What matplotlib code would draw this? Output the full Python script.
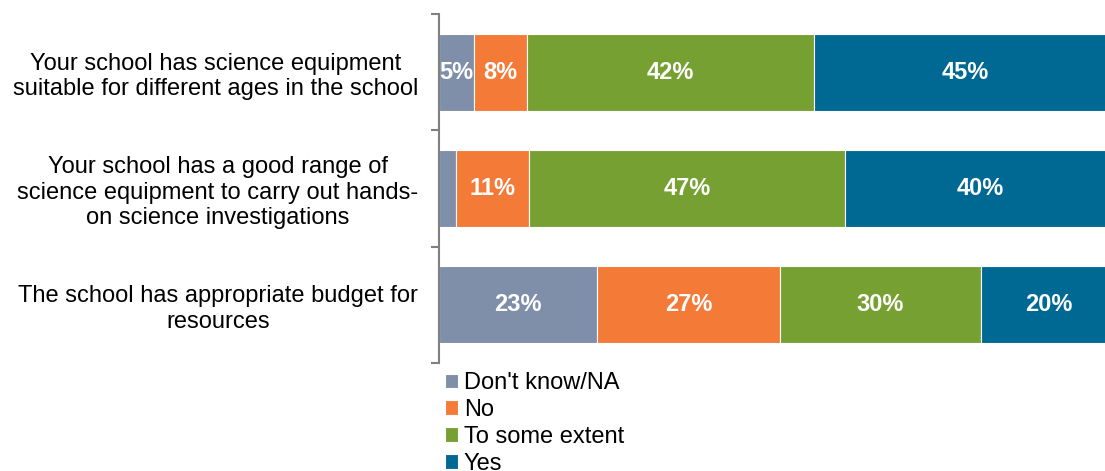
import matplotlib
matplotlib.use("Agg")
import matplotlib.pyplot as plt
import numpy as np

plt.rcParams['font.family'] = ['Liberation Sans', 'DejaVu Sans']

categories = [
    "Your school has science equipment\nsuitable for different ages in the school",
    "Your school has a good range of\nscience equipment to carry out hands-\non science investigations",
    "The school has appropriate budget for\nresources",
]
series_names = ["Don't know/NA", "No", "To some extent", "Yes"]
dont_know = [5.2, 2.5, 23.4]
no = [7.8, 10.8, 26.9]
some_extent = [42.4, 46.7, 29.8]
yes = [44.6, 40.0, 19.9]
colors = ["#7F8FA9", "#F47A37", "#77A033", "#006993"]

series = [dont_know, no, some_extent, yes]

fig = plt.figure(figsize=(11.05, 4.71), dpi=100)
ax = fig.add_axes([439/1105, 1 - 363/471, (1116-439)/1105, (363-14)/471])

y = np.arange(len(categories))
left = np.zeros(len(categories))
for name, vals, c in zip(series_names, series, colors):
    vals = np.array(vals)
    ax.barh(y, vals, left=left, height=0.66, color=c, edgecolor='white',
            linewidth=0.8, label=name)
    for yi, (l, v) in enumerate(zip(left, vals)):
        if v >= 3:
            ax.text(l + v/2, yi, f"{v:.0f}%", ha='center', va='center',
                    color='white', fontsize=17, fontweight='bold')
    left += vals

ax.set_xlim(0, 100)
ax.set_ylim(len(categories) - 0.5, -0.5)
ax.set_yticks(np.arange(-0.5, len(categories) + 0.5, 1))
ax.set_yticklabels([])
ax.set_yticks(y, minor=True)
ax.set_yticklabels(categories, minor=True, fontsize=17, multialignment='center')
ax.tick_params(axis='y', which='minor', length=0, pad=15)
ax.tick_params(axis='y', which='major', length=6, color='#808080', width=1.5)
ax.set_xticks([])
for s in ['top', 'right', 'bottom']:
    ax.spines[s].set_visible(False)
ax.spines['left'].set_color('#808080')
ax.spines['left'].set_linewidth(1.5)

leg = fig.legend(loc='upper left', bbox_to_anchor=(445/1105, 1 - 372/471), frameon=False,
                 fontsize=17, handlelength=0.55, handleheight=0.55, handletextpad=0.25,
                 labelspacing=0.21, borderaxespad=0, borderpad=0)

fig.savefig("out.png", dpi=100)
